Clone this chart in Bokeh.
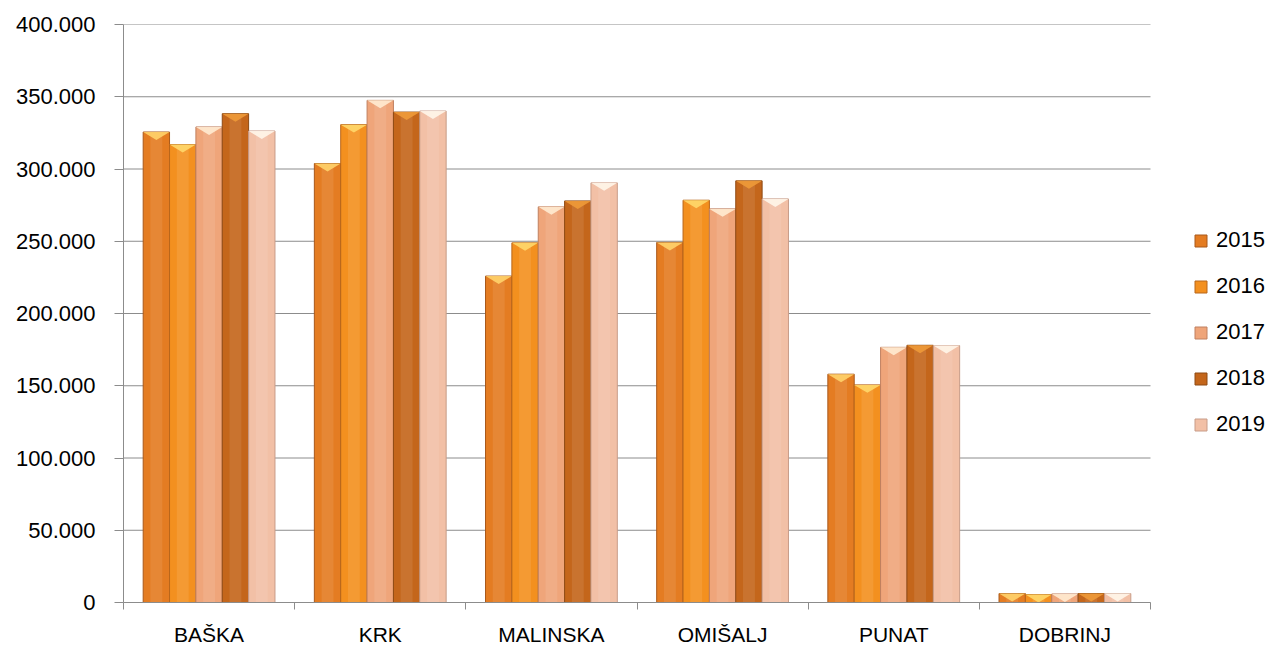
from bokeh.plotting import figure
from bokeh.models import (Range1d, FixedTicker, Legend, LegendItem, ColumnDataSource)
from bokeh.embed import file_html
from bokeh.resources import INLINE

# ---- data ----
categories = ["BAŠKA", "KRK", "MALINSKA", "OMIŠALJ", "PUNAT", "DOBRINJ"]
years = ["2015", "2016", "2017", "2018", "2019"]
v2015 = [325600, 303800, 225900, 249200, 158000, 6200]
v2016 = [316900, 330700, 248900, 278400, 150600, 5500]
v2017 = [329100, 347500, 273800, 272400, 176600, 5900]
v2018 = [338300, 339400, 277900, 291800, 178000, 6200]
v2019 = [326300, 340100, 290400, 279300, 177800, 6200]
y_ticks = [0, 50000, 100000, 150000, 200000, 250000, 300000, 350000, 400000]
y_tick_labels = ["0", "50.000", "100.000", "150.000", "200.000", "250.000",
                 "300.000", "350.000", "400.000"]

series = [v2015, v2016, v2017, v2018, v2019]
fills = ["#E47C22", "#F3901F", "#EFA57A", "#C4661B", "#F2C0A6"]
bevels = ["#FFD36A", "#FFD86A", "#FFEBD2", "#EE9A38", "#FFF6EA"]
edges = ["#A8581A", "#B8661A", "#C08060", "#8E4A14", "#C89C88"]

FONT = "Liberation Sans"
W, H = 1269, 648
TOP, BOTTOM, LEFT = 24, 45, 123
PLOT_RIGHT = 1150          # pixel where the category area ends
n = len(categories)
x_end = n * (W - LEFT) / (PLOT_RIGHT - LEFT)

p = figure(width=W, height=H, output_backend="svg", toolbar_location=None,
           x_range=Range1d(0, x_end), y_range=Range1d(0, 400000),
           min_border_left=LEFT, min_border_right=0, min_border_top=TOP,
           min_border_bottom=BOTTOM)
p.outline_line_color = None
p.background_fill_color = "white"
p.xgrid.visible = False
p.ygrid.visible = False

# horizontal gridlines over the category area only
p.segment(x0=[0] * len(y_ticks), x1=[n] * len(y_ticks), y0=y_ticks, y1=y_ticks,
          line_color="#8C8C8C", line_width=1, level="underlay")

bar_w = 0.154
frame_h_px = H - TOP - BOTTOM
bevel_h = 8 * 400000 / frame_h_px

renderers = []
for j, (vals, fc, bc, ec) in enumerate(zip(series, fills, bevels, edges)):
    xs = [i + 0.5 + (j - 2) * bar_w for i in range(n)]
    src = ColumnDataSource(dict(x=xs, top=vals))
    r = p.vbar(x="x", top="top", width=bar_w, source=src, fill_color=fc,
               line_color=ec, line_width=1)
    renderers.append(r)
    # soft central highlight (rounded look)
    p.vbar(x="x", top="top", width=bar_w * 0.45, source=src,
           fill_color="white", fill_alpha=0.09, line_color=None)
    # bevel highlight at top of each bar
    pxs, pys = [], []
    for x, t in zip(xs, vals):
        h = min(bevel_h, t)
        pxs.append([x - bar_w / 2, x + bar_w / 2, x])
        pys.append([t, t, t - h])
    p.patches(pxs, pys, fill_color=bc, line_color=None, fill_alpha=0.9)

# y axis
ya = p.yaxis[0]
ya.ticker = FixedTicker(ticks=y_ticks)
ya.major_label_overrides = {t: l for t, l in zip(y_ticks, y_tick_labels)}
ya.axis_line_color = "#8C8C8C"
ya.major_tick_line_color = "#8C8C8C"
ya.major_tick_out = 9
ya.major_tick_in = 0
ya.minor_tick_line_color = None
ya.major_label_standoff = 19
ya.major_label_text_font = FONT
ya.major_label_text_font_size = "22px"
ya.major_label_text_color = "#000000"

# x axis: labels at centres, tick marks at category boundaries
xa = p.xaxis[0]
centers = [i + 0.5 for i in range(n)]
xa.ticker = FixedTicker(ticks=centers, minor_ticks=list(range(n + 1)))
xa.bounds = (0, n)
xa.major_label_overrides = {c: name for c, name in zip(centers, categories)}
xa.axis_line_color = "#8C8C8C"
xa.major_tick_line_color = None
xa.major_tick_out = 0
xa.major_tick_in = 0
xa.minor_tick_line_color = "#8C8C8C"
xa.minor_tick_out = 7
xa.minor_tick_in = 0
xa.major_label_standoff = 13
xa.major_label_text_font = FONT
xa.major_label_text_font_size = "21px"
xa.major_label_text_color = "#000000"

# legend
items = [LegendItem(label=y, renderers=[r]) for y, r in zip(years, renderers)]
legend = Legend(items=items, location=(1070, 165), orientation="vertical",
                glyph_width=15, glyph_height=15, label_height=24,
                label_standoff=8, spacing=20, padding=0, margin=0,
                border_line_color=None, background_fill_alpha=0,
                label_text_font=FONT, label_text_font_size="22px",
                label_text_color="#000000")
p.add_layout(legend)

open("out.html", "w").write(file_html(p, INLINE))
